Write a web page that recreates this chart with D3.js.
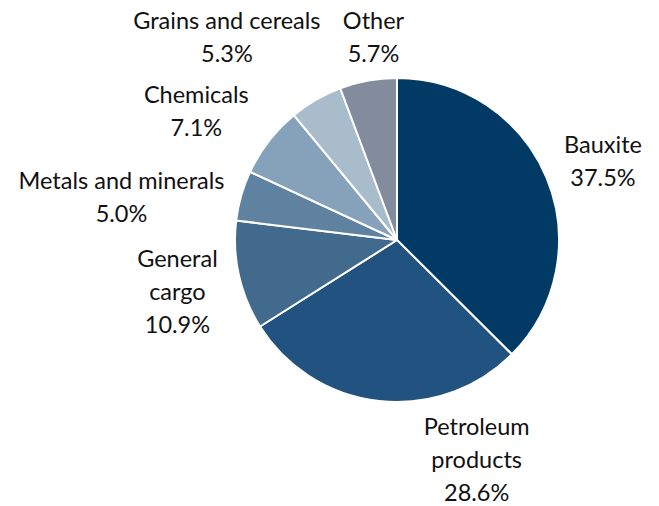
<!DOCTYPE html>
<html>
<head>
<meta charset="utf-8">
<script src="https://cdn.jsdelivr.net/npm/d3@7"></script>
<style>
  body { margin: 0; background: #fff; }
  text { font-family: Lato, "Open Sans", sans-serif; fill: #111; }
</style>
</head>
<body>
<div id="chart"></div>
<script>
var categories = ["Bauxite", "Petroleum products", "General cargo", "Metals and minerals", "Chemicals", "Grains and cereals", "Other"];
var shares = [37.5, 28.6, 10.9, 5.0, 7.1, 5.3, 5.7];
var labelLines = [["Bauxite"], ["Petroleum", "products"], ["General", "cargo"], ["Metals and minerals"], ["Chemicals"], ["Grains and cereals"], ["Other"]];
var colours = ["#013a65", "#225380", "#416a8d", "#5f82a0", "#86a2ba", "#a9bccc", "#838c9d"];

var width = 659;
var height = 506;
var cx = 397;
var cy = 240;
var radius = 162;
var labelRadius = radius + 60;
var lineHeight = 33;

// label nudges from the radial anchor, matching Excel's placement
var nudges = [[1, 7], [104, -1], [-3, 3], [-62, 18], [-25, 7], [-59, -10], [16, 16]];

var data = categories.map(function(c, i) {
    return { name: c, value: shares[i], lines: labelLines[i], colour: colours[i], nudge: nudges[i] };
});

var svg = d3.select("#chart")
    .append("svg")
    .attr("width", width)
    .attr("height", height);

var g = svg.append("g")
    .attr("transform", "translate(" + cx + "," + cy + ")");

var pie = d3.pie()
    .sort(null)
    .value(function(d) { return d.value; });

var arc = d3.arc()
    .innerRadius(0)
    .outerRadius(radius);

var labelArc = d3.arc()
    .innerRadius(labelRadius)
    .outerRadius(labelRadius);

var arcs = pie(data);

g.selectAll(".slice")
    .data(arcs)
    .enter()
    .append("path")
    .attr("class", "slice")
    .attr("d", arc)
    .attr("fill", function(d) { return d.data.colour; })
    .attr("stroke", "#fff")
    .attr("stroke-width", 2)
    .attr("stroke-linejoin", "round");

var labels = g.selectAll(".label")
    .data(arcs)
    .enter()
    .append("text")
    .attr("class", "label")
    .attr("text-anchor", "middle")
    .attr("font-size", "23.5px")
    .attr("transform", function(d) {
        var c = labelArc.centroid(d);
        var n = d.data.lines.length + 1;
        var x = c[0] + d.data.nudge[0];
        var y = c[1] + d.data.nudge[1] - (n - 1) * lineHeight / 2 + 8;
        return "translate(" + x + "," + y + ")";
    });

labels.each(function(d) {
    var t = d3.select(this);
    var lines = d.data.lines.concat([d.data.value.toFixed(1) + "%"]);
    lines.forEach(function(l, i) {
        t.append("tspan")
            .attr("x", 0)
            .attr("y", i * lineHeight)
            .text(l);
    });
});
</script>
</body>
</html>
